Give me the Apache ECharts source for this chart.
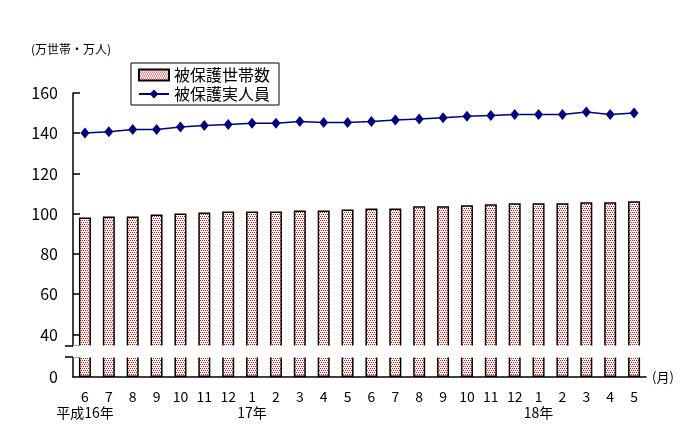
<!DOCTYPE html>
<html>
<head>
<meta charset="utf-8">
<script src="https://cdn.jsdelivr.net/npm/echarts@6/dist/echarts.min.js"></script>
<style>
  html, body { margin: 0; padding: 0; background: #fff; }
  #main { width: 685px; height: 445px; }
</style>
</head>
<body>
<div id="main"></div>
<script>
// 月（平成16年6月～18年5月）
var months = ['6', '7', '8', '9', '10', '11', '12', '1', '2', '3', '4', '5',
  '6', '7', '8', '9', '10', '11', '12', '1', '2', '3', '4', '5'];
var yearLabels = ['平成16年', '', '', '', '', '', '', '17年', '', '', '', '',
  '', '', '', '', '', '', '', '18年', '', '', '', ''];
// 被保護世帯数（万世帯）
var households = [98.1, 98.6, 98.6, 99.6, 100.1, 100.6, 101.1, 101.1, 101.1, 101.6, 101.6, 102.1,
  102.6, 102.6, 103.7, 103.7, 104.2, 104.7, 105.2, 105.2, 105.2, 105.7, 105.7, 106.2];
// 被保護実人員（万人）
var persons = [140.1, 140.8, 141.8, 141.8, 143.1, 143.8, 144.3, 145.0, 145.0, 145.8, 145.3, 145.3,
  145.8, 146.6, 147.1, 147.7, 148.4, 148.8, 149.3, 149.3, 149.3, 150.6, 149.3, 150.0];
var yTicks = [0, 40, 60, 80, 100, 120, 140, 160];
// 軸の省略部分
var breakFrom = 10, breakTo = 34.5;

var font = '"Noto Sans CJK JP", sans-serif';

// 赤い点々の模様
var cv = document.createElement('canvas');
cv.width = 4; cv.height = 4;
var ctx = cv.getContext('2d');
ctx.fillStyle = '#ffffff';
ctx.fillRect(0, 0, 4, 4);
ctx.fillStyle = '#ff0000';
ctx.fillRect(0, 0, 1, 1);
ctx.fillRect(2, 0, 1, 1);
ctx.fillRect(1, 2, 1, 1);
ctx.fillRect(3, 2, 1, 1);
var dots = { image: cv, repeat: 'repeat' };

var breakOpt = [{ start: breakFrom, end: breakTo, gap: '4%' }];
var breakAreaOpt = {
  show: true,
  zigzagAmplitude: 0,
  itemStyle: { color: '#fff', borderWidth: 0, opacity: 1 }
};

var chart = echarts.init(document.getElementById('main'));
chart.setOption({
  animation: false,
  backgroundColor: '#fff',
  textStyle: { fontFamily: font, color: '#000' },
  title: {
    text: '(万世帯・万人)',
    left: 26, top: 38,
    textStyle: { fontFamily: font, fontSize: 12, fontWeight: 'normal', color: '#000' }
  },
  legend: {
    orient: 'vertical',
    left: 131, top: 63,
    padding: [4, 9, 3, 7],
    itemGap: 3,
    itemWidth: 30, itemHeight: 11,
    borderColor: '#000', borderWidth: 1,
    backgroundColor: '#fff',
    textStyle: { fontFamily: font, fontSize: 16, color: '#000' },
    data: [{ name: '被保護世帯数', icon: 'rect' }, '被保護実人員']
  },
  grid: { left: 73, right: 39, top: 93, bottom: 68 },
  xAxis: {
    type: 'category',
    data: months,
    name: '(月)',
    nameLocation: 'end',
    nameGap: 6,
    nameTextStyle: { fontFamily: font, fontSize: 13, color: '#000', padding: [16, 0, 0, 0] },
    axisLine: { lineStyle: { color: '#000', width: 1.5 } },
    axisTick: { inside: true, length: 4, lineStyle: { color: '#000' } },
    axisLabel: {
      interval: 0, margin: 12, fontSize: 14, lineHeight: 16, color: '#000',
      formatter: function (v, i) { return yearLabels[i] ? v + '\n' + yearLabels[i] : v; }
    }
  },
  yAxis: [
    {
      type: 'value',
      min: 0, max: 160, interval: 20,
      breaks: breakOpt,
      breakArea: breakAreaOpt,
      splitLine: { show: false },
      axisLine: { show: true, lineStyle: { color: '#000', width: 1.5 } },
      axisTick: {
        show: true, inside: true, length: 7,
        customValues: yTicks.slice(1).concat([breakFrom, breakTo]),
        lineStyle: { color: '#000', width: 1.5 }
      },
      axisLabel: { margin: 15, fontSize: 16, color: '#000', customValues: yTicks }
    },
    {
      // 省略記号の外側の線
      type: 'value',
      position: 'left',
      min: 0, max: 160, interval: 20,
      breaks: breakOpt,
      breakArea: { show: false },
      splitLine: { show: false },
      axisLine: { show: false },
      axisTick: {
        show: true, inside: false, length: 8,
        customValues: [breakFrom, breakTo],
        lineStyle: { color: '#000', width: 1.5 }
      },
      axisLabel: { show: false }
    }
  ],
  series: [
    {
      name: '被保護世帯数',
      type: 'bar',
      data: households,
      barWidth: 12,
      itemStyle: { color: dots, borderColor: '#000', borderWidth: 1.5 }
    },
    {
      name: '被保護実人員',
      type: 'line',
      data: persons,
      symbol: 'diamond',
      symbolSize: [9, 11],
      itemStyle: { color: '#000080' },
      lineStyle: { color: '#000080', width: 1.5 }
    }
  ]
});
</script>
</body>
</html>
